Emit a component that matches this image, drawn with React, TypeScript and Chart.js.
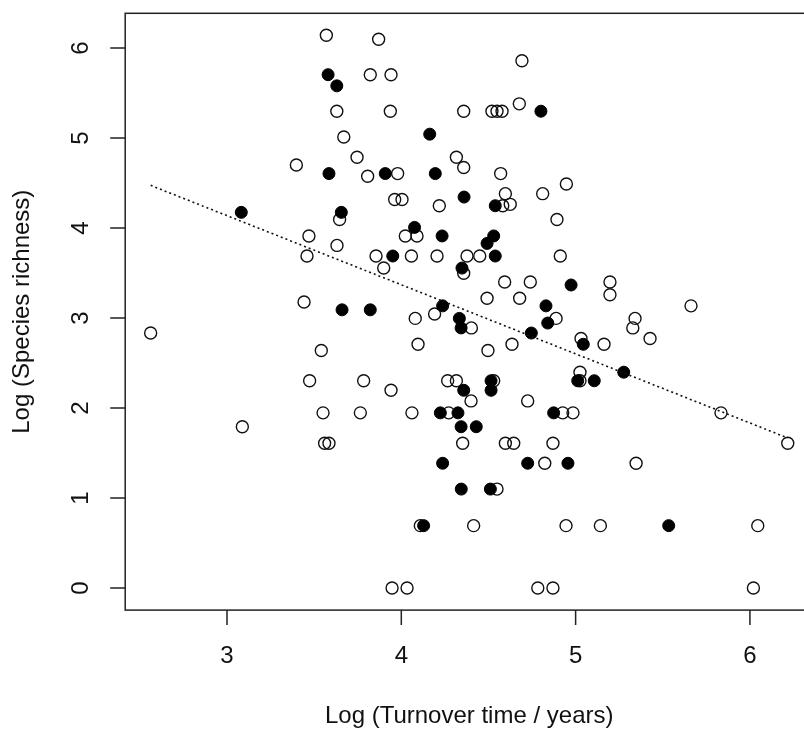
import React, { useEffect, useRef } from "react";
import { Chart, registerables } from "chart.js";

Chart.register(...registerables);

// Open circles (pch 1): [log turnover time, log species richness]
const openPoints: [number, number][] = [
  [3.570, 6.142], [3.630, 5.298], [3.670, 5.011], [3.746, 4.787], [3.398, 4.700],
  [3.870, 6.098], [3.822, 5.704], [3.941, 5.704], [3.937, 5.298], [4.358, 5.298],
  [4.520, 5.298], [4.549, 5.298], [4.578, 5.298], [4.677, 5.380], [4.692, 5.858],
  [4.316, 4.787], [4.358, 4.673], [3.807, 4.575], [3.979, 4.605], [4.570, 4.605],
  [4.947, 4.489], [4.811, 4.382], [4.597, 4.382], [3.962, 4.317], [4.004, 4.317],
  [4.218, 4.248], [4.582, 4.248], [4.625, 4.263], [4.893, 4.094], [3.646, 4.094],
  [3.470, 3.912], [3.459, 3.689], [3.631, 3.807], [3.442, 3.178], [2.562, 2.833],
  [3.541, 2.639], [3.474, 2.303], [3.551, 1.946], [3.088, 1.792], [3.560, 1.609],
  [3.585, 1.609], [4.023, 3.912], [4.090, 3.912], [3.855, 3.689], [4.058, 3.689],
  [4.205, 3.689], [4.377, 3.689], [4.450, 3.689], [4.912, 3.689], [3.899, 3.555],
  [4.358, 3.497], [4.593, 3.401], [4.740, 3.401], [4.492, 3.219], [4.679, 3.219],
  [4.191, 3.045], [4.080, 2.996], [4.402, 2.890], [4.888, 2.996], [4.096, 2.708],
  [4.497, 2.639], [4.635, 2.708], [5.031, 2.773], [5.163, 2.708], [3.784, 2.303],
  [3.941, 2.197], [4.266, 2.303], [4.316, 2.303], [4.400, 2.079], [4.530, 2.303],
  [4.725, 2.079], [5.025, 2.398], [5.025, 2.303], [3.765, 1.946], [4.061, 1.946],
  [4.272, 1.946], [4.926, 1.946], [4.985, 1.946], [4.352, 1.609], [4.597, 1.609],
  [4.645, 1.609], [4.870, 1.609], [4.823, 1.386], [4.549, 1.099], [4.109, 0.693],
  [4.415, 0.693], [4.945, 0.693], [3.947, 0], [4.033, 0], [4.783, 0],
  [4.870, 0], [6.217, 1.609], [5.347, 1.386], [5.142, 0.693], [6.045, 0.693],
  [6.020, 0], [5.834, 1.946], [5.197, 3.401], [5.197, 3.258], [5.662, 3.135],
  [5.341, 2.996], [5.328, 2.890], [5.427, 2.773],
];

// Filled circles (pch 16)
const filledPoints: [number, number][] = [
  [3.580, 5.704], [3.630, 5.580], [3.585, 4.605], [3.082, 4.174], [3.656, 4.174],
  [3.660, 3.091], [4.163, 5.043], [4.801, 5.298], [3.908, 4.605], [4.195, 4.605],
  [4.360, 4.344], [4.539, 4.248], [4.076, 4.007], [4.234, 3.912], [4.530, 3.912],
  [4.492, 3.829], [3.951, 3.689], [4.539, 3.689], [4.348, 3.555], [4.974, 3.367],
  [3.822, 3.091], [4.237, 3.135], [4.333, 2.996], [4.343, 2.890], [4.830, 3.135],
  [4.840, 2.944], [4.746, 2.833], [5.044, 2.708], [4.358, 2.197], [4.515, 2.303],
  [4.515, 2.197], [5.012, 2.303], [5.107, 2.303], [5.276, 2.398], [4.224, 1.946],
  [4.325, 1.946], [4.874, 1.946], [4.343, 1.792], [4.430, 1.792], [4.237, 1.386],
  [4.725, 1.386], [4.956, 1.386], [4.344, 1.099], [4.511, 1.099], [4.128, 0.693],
  [5.534, 0.693],
];

// Dotted regression line end points
const fitLineX = [2.562, 6.217];
const fitLineY = [4.474, 1.667];

const xTicks = [3, 4, 5, 6];
const yTicks = [0, 1, 2, 3, 4, 5, 6];

const xTitle = "Log (Turnover time / years)";
const yTitle = "Log (Species richness)";

const FONT = '24px "Liberation Sans", Arial, sans-serif';
const INK = "#111";

const CANVAS_W = 830;
const CANVAS_H = 730;

const rAxesPlugin = {
  id: "rAxes",
  afterDraw(chart: any) {
    const { ctx, chartArea, scales } = chart;
    const { left, top, right, bottom } = chartArea;
    const xs = scales.x;
    const ys = scales.y;
    ctx.save();
    ctx.strokeStyle = "#222";
    ctx.lineWidth = 1.5;
    ctx.strokeRect(left, top, right - left, bottom - top);

    const tick = 15;
    ctx.beginPath();
    xTicks.forEach((v) => {
      const px = xs.getPixelForValue(v);
      ctx.moveTo(px, bottom);
      ctx.lineTo(px, bottom + tick);
    });
    yTicks.forEach((v) => {
      const py = ys.getPixelForValue(v);
      ctx.moveTo(left, py);
      ctx.lineTo(left - tick, py);
    });
    ctx.stroke();

    ctx.fillStyle = INK;
    ctx.font = FONT;
    ctx.textAlign = "center";
    ctx.textBaseline = "alphabetic";
    xTicks.forEach((v) => {
      ctx.fillText(String(v), xs.getPixelForValue(v), bottom + 53);
    });
    ctx.fillText(xTitle, (left + right) / 2, bottom + 113);

    yTicks.forEach((v) => {
      ctx.save();
      ctx.translate(left - 37, ys.getPixelForValue(v));
      ctx.rotate(-Math.PI / 2);
      ctx.fillText(String(v), 0, 0);
      ctx.restore();
    });
    ctx.save();
    ctx.translate(left - 96.5, (top + bottom) / 2);
    ctx.rotate(-Math.PI / 2);
    ctx.fillText(yTitle, 0, 0);
    ctx.restore();
    ctx.restore();
  },
};

export default function App() {
  const canvasRef = useRef<HTMLCanvasElement | null>(null);

  useEffect(() => {
    const canvas = canvasRef.current;
    if (!canvas) return;
    const chart = new Chart(canvas, {
      type: "scatter",
      data: {
        datasets: [
          {
            type: "line",
            data: fitLineX.map((x, i) => ({ x, y: fitLineY[i] })),
            borderColor: "#111",
            borderWidth: 1.6,
            borderDash: [2, 3],
            pointRadius: 0,
            fill: false,
          } as any,
          {
            data: filledPoints.map(([x, y]) => ({ x, y })),
            pointRadius: 6,
            pointBorderWidth: 1,
            pointBackgroundColor: "#000",
            pointBorderColor: "#000",
            backgroundColor: "#000",
            borderColor: "#000",
          },
          {
            data: openPoints.map(([x, y]) => ({ x, y })),
            pointRadius: 6,
            pointBorderWidth: 1.4,
            pointBackgroundColor: "rgba(0,0,0,0)",
            pointBorderColor: "#111",
            backgroundColor: "rgba(0,0,0,0)",
            borderColor: "#111",
          },
        ],
      },
      options: {
        animation: false,
        responsive: false,
        devicePixelRatio: 1,
        events: [],
        layout: {
          padding: { left: 125.2, top: 13.3, right: CANVAS_W - 813.2, bottom: CANVAS_H - 610.1 },
        },
        plugins: {
          legend: { display: false },
          tooltip: { enabled: false },
          title: { display: false },
        },
        scales: {
          x: { type: "linear", min: 2.416, max: 6.363, display: false },
          y: { type: "linear", min: -0.2456, max: 6.386, display: false },
        },
      },
      plugins: [rAxesPlugin],
    });
    return () => chart.destroy();
  }, []);

  return (
    <div
      style={{
        position: "absolute",
        left: 0,
        top: 0,
        width: 804,
        height: 730,
        overflow: "hidden",
        background: "#fff",
      }}
    >
      <canvas
        ref={canvasRef}
        width={CANVAS_W}
        height={CANVAS_H}
        style={{ display: "block", width: CANVAS_W, height: CANVAS_H }}
      />
    </div>
  );
}
